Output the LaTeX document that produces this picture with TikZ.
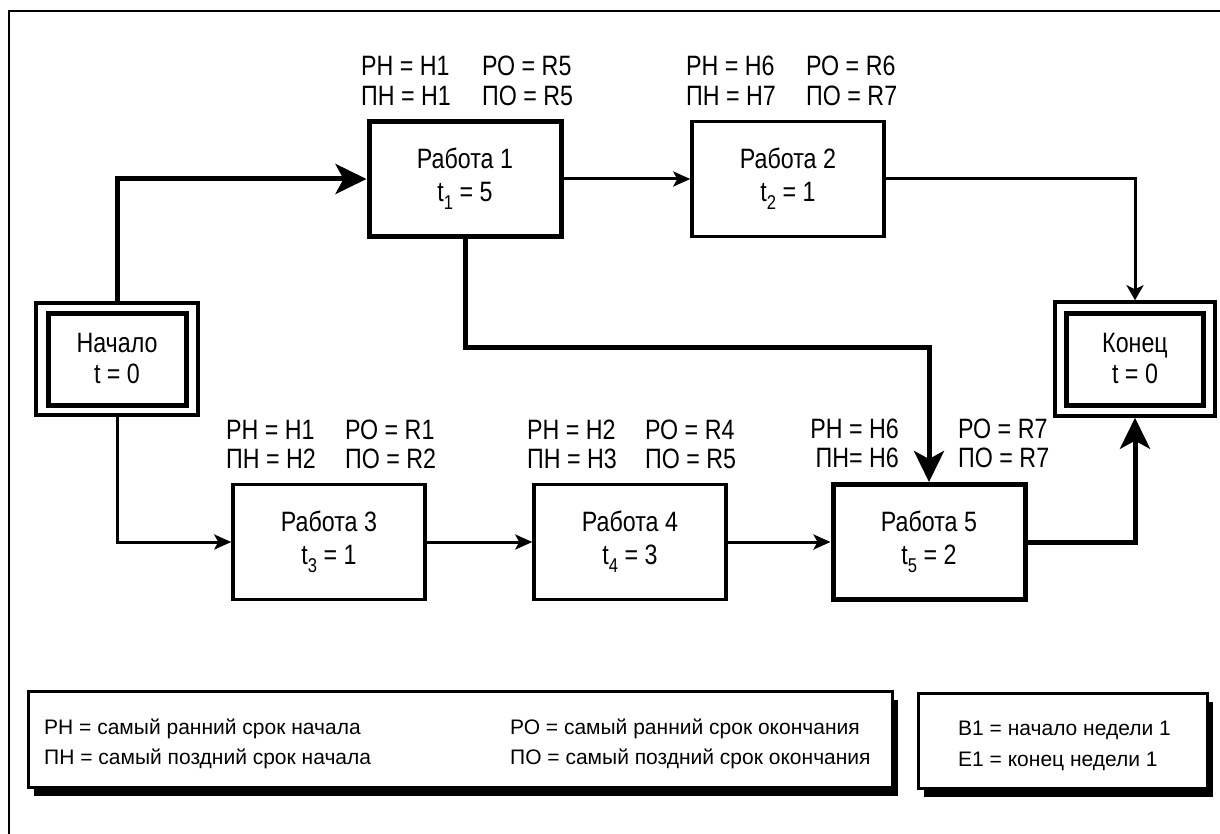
\documentclass[tikz,border=0pt]{standalone}
\usepackage{fontspec}
\setmainfont{Liberation Sans}[FakeStretch=0.83]
\newfontfamily\legfont{Liberation Sans}
\usetikzlibrary{arrows.meta,shadows}
\newcommand\mysub[1]{\raisebox{-8pt}{\fontsize{20}{20}\selectfont #1}}
\begin{document}
\begin{tikzpicture}[x=1pt,y=-1pt,
  box/.style={draw, line width=3.5pt, minimum width=192pt, minimum height=115pt,
    align=center, font=\fontsize{28}{33}\selectfont, inner sep=0pt},
  critbox/.style={box, line width=5pt},
  outerbox/.style={draw, line width=3.5pt, inner sep=0pt},
  innerbox/.style={draw, line width=5pt, inner sep=0pt, align=center,
    font=\fontsize{28}{31}\selectfont},
  lab/.style={font=\fontsize{28}{30}\selectfont, anchor=base west, inner sep=0pt},
  labr/.style={lab, anchor=base east},
  legtxt/.style={font=\legfont\fontsize{21}{27}\selectfont, anchor=base west, inner sep=0pt},
  legbox/.style={draw, line width=3pt, fill=white,
    drop shadow={shadow xshift=6pt, shadow yshift=-9pt, opacity=1, fill=black}},
  thinline/.style={line width=3pt},
  critline/.style={line width=5pt},
  bigtip/.style={-{Stealth[length=31pt,width=30pt,inset=8pt]}},
  medtip/.style={-{Stealth[length=15pt,width=17pt,inset=4pt]}},
  smalltip/.style={-{Stealth[length=17pt,width=15pt,inset=4pt]}}
]
\useasboundingbox (0,0) rectangle (1220,834);
\fill[white] (0,0) rectangle (1220,834);
% frame (top and left sides)
\draw[line width=2.5pt] (9,834) -- (9,11) -- (1220,11);

% start and finish
\node[outerbox, minimum width=162pt, minimum height=112pt] (start) at (117,359) {};
\node[innerbox, minimum width=138pt, minimum height=92pt] (starti) at (start.center) {Начало\\t = 0};
\node[outerbox, minimum width=160pt, minimum height=114pt] (finish) at (1135,359) {};
\node[innerbox, minimum width=137pt, minimum height=92pt] (finishi) at (finish.center) {Конец\\t = 0};

% works
\node[critbox] (w1) at (465,179) {Работа 1\\t\mysub{1} = 5};
\node[box] (w2) at (788,179) {Работа 2\\t\mysub{2} = 1};
\node[box] (w3) at (329,542) {Работа 3\\t\mysub{3} = 1};
\node[box] (w4) at (630,542) {Работа 4\\t\mysub{4} = 3};
\node[critbox] (w5) at (929,542) {Работа 5\\t\mysub{5} = 2};

% labels
\node[lab] (l1a) at (361,76) {РН = Н1};
\node[lab] (l1b) at (361,106) {ПН = Н1};
\node[lab] (l1c) at (482,76) {РО = R5};
\node[lab] (l1d) at (482,106) {ПО = R5};
\node[lab] (l2a) at (686,76) {РН = Н6};
\node[lab] (l2b) at (686,106) {ПН = Н7};
\node[lab] (l2c) at (806,76) {РО = R6};
\node[lab] (l2d) at (806,106) {ПО = R7};
\node[lab] (l3a) at (226,439) {РН = Н1};
\node[lab] (l3b) at (226,468) {ПН = Н2};
\node[lab] (l3c) at (345,439) {РО = R1};
\node[lab] (l3d) at (345,468) {ПО = R2};
\node[lab] (l4a) at (527,439) {РН = Н2};
\node[lab] (l4b) at (527,468) {ПН = Н3};
\node[lab] (l4c) at (645,439) {РО = R4};
\node[lab] (l4d) at (645,468) {ПО = R5};
\node[labr] (l5a) at (899,438) {РН = Н6};
\node[labr] (l5b) at (899,467) {ПН= Н6};
\node[lab] (l5c) at (958,438) {РО = R7};
\node[lab] (l5d) at (958,467) {ПО = R7};

% connectors
\coordinate (bend) at (929,347);
\draw[critline, bigtip] (start.north) |- (w1.west);
\draw[thinline, smalltip] (w1.east) -- (w2.west);
\draw[thinline, medtip] (w2.east) -| (finish.north);
\draw[critline, bigtip] (w1.south) |- (bend) -- (w5.north);
\draw[thinline, smalltip] (start.south) |- (w3.west);
\draw[thinline, smalltip] (w3.east) -- (w4.west);
\draw[thinline, smalltip] (w4.east) -- (w5.west);
\draw[critline, bigtip] (w5.east) -| (finish.south);

% legends
\node[legbox, minimum width=864pt, minimum height=96pt] (leg1) at (460,739) {};
\node[legbox, minimum width=289pt, minimum height=95pt] (leg2) at (1062.5,740.5) {};
\node[legtxt] (g1) at (44,734) {РН = самый ранний срок начала};
\node[legtxt] (g2) at (44,764) {ПН = самый поздний срок начала};
\node[legtxt] (g3) at (510,734) {РО = самый ранний срок окончания};
\node[legtxt] (g4) at (510,764) {ПО = самый поздний срок окончания};
\node[legtxt] (g5) at (958,735) {B1 = начало недели 1};
\node[legtxt] (g6) at (958,766) {E1 = конец недели 1};
\end{tikzpicture}
\end{document}
